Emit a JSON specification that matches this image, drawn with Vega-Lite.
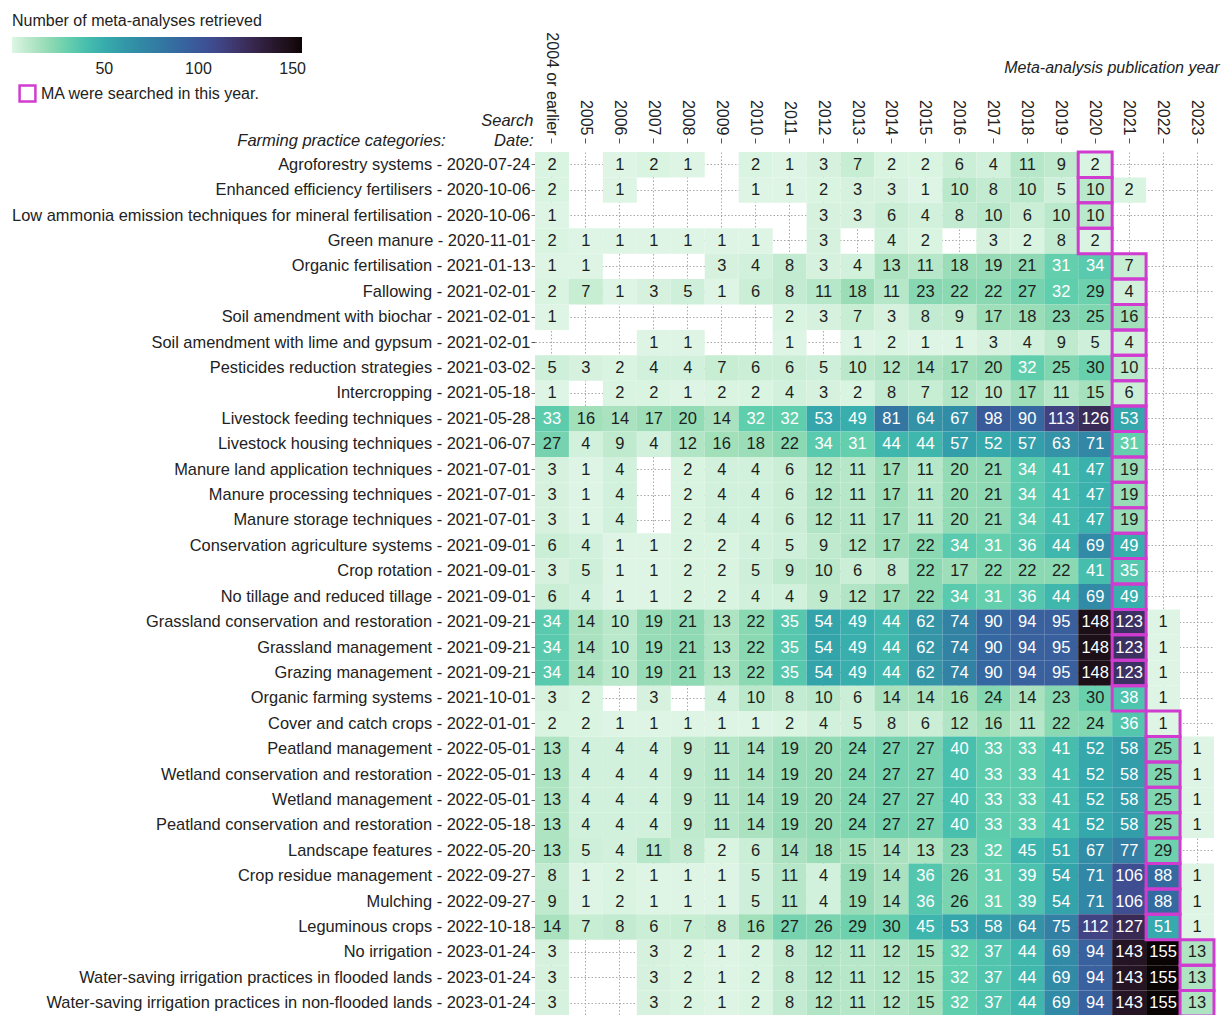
{
"$schema": "https://vega.github.io/schema/vega-lite/v6.json",
"width": 679,
"height": 864,
"autosize": "none",
"padding": {"left": 535, "top": 152, "right": 7, "bottom": 0},
"background": "white",
"config": {"font": "Liberation Sans", "view": {"stroke": null}},
"datasets": {
"practices": [
{"r":1,"label":"Agroforestry systems - 2020-07-24","sy":"2020"},
{"r":2,"label":"Enhanced efficiency fertilisers - 2020-10-06","sy":"2020"},
{"r":3,"label":"Low ammonia emission techniques for mineral fertilisation - 2020-10-06","sy":"2020"},
{"r":4,"label":"Green manure - 2020-11-01","sy":"2020"},
{"r":5,"label":"Organic fertilisation - 2021-01-13","sy":"2021"},
{"r":6,"label":"Fallowing - 2021-02-01","sy":"2021"},
{"r":7,"label":"Soil amendment with biochar - 2021-02-01","sy":"2021"},
{"r":8,"label":"Soil amendment with lime and gypsum - 2021-02-01","sy":"2021"},
{"r":9,"label":"Pesticides reduction strategies - 2021-03-02","sy":"2021"},
{"r":10,"label":"Intercropping - 2021-05-18","sy":"2021"},
{"r":11,"label":"Livestock feeding techniques - 2021-05-28","sy":"2021"},
{"r":12,"label":"Livestock housing techniques - 2021-06-07","sy":"2021"},
{"r":13,"label":"Manure land application techniques - 2021-07-01","sy":"2021"},
{"r":14,"label":"Manure processing techniques - 2021-07-01","sy":"2021"},
{"r":15,"label":"Manure storage techniques - 2021-07-01","sy":"2021"},
{"r":16,"label":"Conservation agriculture systems - 2021-09-01","sy":"2021"},
{"r":17,"label":"Crop rotation - 2021-09-01","sy":"2021"},
{"r":18,"label":"No tillage and reduced tillage - 2021-09-01","sy":"2021"},
{"r":19,"label":"Grassland conservation and restoration - 2021-09-21","sy":"2021"},
{"r":20,"label":"Grassland management - 2021-09-21","sy":"2021"},
{"r":21,"label":"Grazing management - 2021-09-21","sy":"2021"},
{"r":22,"label":"Organic farming systems - 2021-10-01","sy":"2021"},
{"r":23,"label":"Cover and catch crops - 2022-01-01","sy":"2022"},
{"r":24,"label":"Peatland management - 2022-05-01","sy":"2022"},
{"r":25,"label":"Wetland conservation and restoration - 2022-05-01","sy":"2022"},
{"r":26,"label":"Wetland management - 2022-05-01","sy":"2022"},
{"r":27,"label":"Peatland conservation and restoration - 2022-05-18","sy":"2022"},
{"r":28,"label":"Landscape features - 2022-05-20","sy":"2022"},
{"r":29,"label":"Crop residue management - 2022-09-27","sy":"2022"},
{"r":30,"label":"Mulching - 2022-09-27","sy":"2022"},
{"r":31,"label":"Leguminous crops - 2022-10-18","sy":"2022"},
{"r":32,"label":"No irrigation - 2023-01-24","sy":"2023"},
{"r":33,"label":"Water-saving irrigation practices in flooded lands - 2023-01-24","sy":"2023"},
{"r":34,"label":"Water-saving irrigation practices in non-flooded lands - 2023-01-24","sy":"2023"}
],
"cells": [
{"r":1,"c":"2004 or earlier","n":2},{"r":1,"c":"2006","n":1},{"r":1,"c":"2007","n":2},{"r":1,"c":"2008","n":1},{"r":1,"c":"2010","n":2},{"r":1,"c":"2011","n":1},{"r":1,"c":"2012","n":3},{"r":1,"c":"2013","n":7},{"r":1,"c":"2014","n":2},{"r":1,"c":"2015","n":2},{"r":1,"c":"2016","n":6},{"r":1,"c":"2017","n":4},{"r":1,"c":"2018","n":11},{"r":1,"c":"2019","n":9},{"r":1,"c":"2020","n":2},
{"r":2,"c":"2004 or earlier","n":2},{"r":2,"c":"2006","n":1},{"r":2,"c":"2010","n":1},{"r":2,"c":"2011","n":1},{"r":2,"c":"2012","n":2},{"r":2,"c":"2013","n":3},{"r":2,"c":"2014","n":3},{"r":2,"c":"2015","n":1},{"r":2,"c":"2016","n":10},{"r":2,"c":"2017","n":8},{"r":2,"c":"2018","n":10},{"r":2,"c":"2019","n":5},{"r":2,"c":"2020","n":10},{"r":2,"c":"2021","n":2},
{"r":3,"c":"2004 or earlier","n":1},{"r":3,"c":"2012","n":3},{"r":3,"c":"2013","n":3},{"r":3,"c":"2014","n":6},{"r":3,"c":"2015","n":4},{"r":3,"c":"2016","n":8},{"r":3,"c":"2017","n":10},{"r":3,"c":"2018","n":6},{"r":3,"c":"2019","n":10},{"r":3,"c":"2020","n":10},
{"r":4,"c":"2004 or earlier","n":2},{"r":4,"c":"2005","n":1},{"r":4,"c":"2006","n":1},{"r":4,"c":"2007","n":1},{"r":4,"c":"2008","n":1},{"r":4,"c":"2009","n":1},{"r":4,"c":"2010","n":1},{"r":4,"c":"2012","n":3},{"r":4,"c":"2014","n":4},{"r":4,"c":"2015","n":2},{"r":4,"c":"2017","n":3},{"r":4,"c":"2018","n":2},{"r":4,"c":"2019","n":8},{"r":4,"c":"2020","n":2},
{"r":5,"c":"2004 or earlier","n":1},{"r":5,"c":"2005","n":1},{"r":5,"c":"2009","n":3},{"r":5,"c":"2010","n":4},{"r":5,"c":"2011","n":8},{"r":5,"c":"2012","n":3},{"r":5,"c":"2013","n":4},{"r":5,"c":"2014","n":13},{"r":5,"c":"2015","n":11},{"r":5,"c":"2016","n":18},{"r":5,"c":"2017","n":19},{"r":5,"c":"2018","n":21},{"r":5,"c":"2019","n":31},{"r":5,"c":"2020","n":34},{"r":5,"c":"2021","n":7},
{"r":6,"c":"2004 or earlier","n":2},{"r":6,"c":"2005","n":7},{"r":6,"c":"2006","n":1},{"r":6,"c":"2007","n":3},{"r":6,"c":"2008","n":5},{"r":6,"c":"2009","n":1},{"r":6,"c":"2010","n":6},{"r":6,"c":"2011","n":8},{"r":6,"c":"2012","n":11},{"r":6,"c":"2013","n":18},{"r":6,"c":"2014","n":11},{"r":6,"c":"2015","n":23},{"r":6,"c":"2016","n":22},{"r":6,"c":"2017","n":22},{"r":6,"c":"2018","n":27},{"r":6,"c":"2019","n":32},{"r":6,"c":"2020","n":29},{"r":6,"c":"2021","n":4},
{"r":7,"c":"2004 or earlier","n":1},{"r":7,"c":"2011","n":2},{"r":7,"c":"2012","n":3},{"r":7,"c":"2013","n":7},{"r":7,"c":"2014","n":3},{"r":7,"c":"2015","n":8},{"r":7,"c":"2016","n":9},{"r":7,"c":"2017","n":17},{"r":7,"c":"2018","n":18},{"r":7,"c":"2019","n":23},{"r":7,"c":"2020","n":25},{"r":7,"c":"2021","n":16},
{"r":8,"c":"2007","n":1},{"r":8,"c":"2008","n":1},{"r":8,"c":"2011","n":1},{"r":8,"c":"2013","n":1},{"r":8,"c":"2014","n":2},{"r":8,"c":"2015","n":1},{"r":8,"c":"2016","n":1},{"r":8,"c":"2017","n":3},{"r":8,"c":"2018","n":4},{"r":8,"c":"2019","n":9},{"r":8,"c":"2020","n":5},{"r":8,"c":"2021","n":4},
{"r":9,"c":"2004 or earlier","n":5},{"r":9,"c":"2005","n":3},{"r":9,"c":"2006","n":2},{"r":9,"c":"2007","n":4},{"r":9,"c":"2008","n":4},{"r":9,"c":"2009","n":7},{"r":9,"c":"2010","n":6},{"r":9,"c":"2011","n":6},{"r":9,"c":"2012","n":5},{"r":9,"c":"2013","n":10},{"r":9,"c":"2014","n":12},{"r":9,"c":"2015","n":14},{"r":9,"c":"2016","n":17},{"r":9,"c":"2017","n":20},{"r":9,"c":"2018","n":32},{"r":9,"c":"2019","n":25},{"r":9,"c":"2020","n":30},{"r":9,"c":"2021","n":10},
{"r":10,"c":"2004 or earlier","n":1},{"r":10,"c":"2006","n":2},{"r":10,"c":"2007","n":2},{"r":10,"c":"2008","n":1},{"r":10,"c":"2009","n":2},{"r":10,"c":"2010","n":2},{"r":10,"c":"2011","n":4},{"r":10,"c":"2012","n":3},{"r":10,"c":"2013","n":2},{"r":10,"c":"2014","n":8},{"r":10,"c":"2015","n":7},{"r":10,"c":"2016","n":12},{"r":10,"c":"2017","n":10},{"r":10,"c":"2018","n":17},{"r":10,"c":"2019","n":11},{"r":10,"c":"2020","n":15},{"r":10,"c":"2021","n":6},
{"r":11,"c":"2004 or earlier","n":33},{"r":11,"c":"2005","n":16},{"r":11,"c":"2006","n":14},{"r":11,"c":"2007","n":17},{"r":11,"c":"2008","n":20},{"r":11,"c":"2009","n":14},{"r":11,"c":"2010","n":32},{"r":11,"c":"2011","n":32},{"r":11,"c":"2012","n":53},{"r":11,"c":"2013","n":49},{"r":11,"c":"2014","n":81},{"r":11,"c":"2015","n":64},{"r":11,"c":"2016","n":67},{"r":11,"c":"2017","n":98},{"r":11,"c":"2018","n":90},{"r":11,"c":"2019","n":113},{"r":11,"c":"2020","n":126},{"r":11,"c":"2021","n":53},
{"r":12,"c":"2004 or earlier","n":27},{"r":12,"c":"2005","n":4},{"r":12,"c":"2006","n":9},{"r":12,"c":"2007","n":4},{"r":12,"c":"2008","n":12},{"r":12,"c":"2009","n":16},{"r":12,"c":"2010","n":18},{"r":12,"c":"2011","n":22},{"r":12,"c":"2012","n":34},{"r":12,"c":"2013","n":31},{"r":12,"c":"2014","n":44},{"r":12,"c":"2015","n":44},{"r":12,"c":"2016","n":57},{"r":12,"c":"2017","n":52},{"r":12,"c":"2018","n":57},{"r":12,"c":"2019","n":63},{"r":12,"c":"2020","n":71},{"r":12,"c":"2021","n":31},
{"r":13,"c":"2004 or earlier","n":3},{"r":13,"c":"2005","n":1},{"r":13,"c":"2006","n":4},{"r":13,"c":"2008","n":2},{"r":13,"c":"2009","n":4},{"r":13,"c":"2010","n":4},{"r":13,"c":"2011","n":6},{"r":13,"c":"2012","n":12},{"r":13,"c":"2013","n":11},{"r":13,"c":"2014","n":17},{"r":13,"c":"2015","n":11},{"r":13,"c":"2016","n":20},{"r":13,"c":"2017","n":21},{"r":13,"c":"2018","n":34},{"r":13,"c":"2019","n":41},{"r":13,"c":"2020","n":47},{"r":13,"c":"2021","n":19},
{"r":14,"c":"2004 or earlier","n":3},{"r":14,"c":"2005","n":1},{"r":14,"c":"2006","n":4},{"r":14,"c":"2008","n":2},{"r":14,"c":"2009","n":4},{"r":14,"c":"2010","n":4},{"r":14,"c":"2011","n":6},{"r":14,"c":"2012","n":12},{"r":14,"c":"2013","n":11},{"r":14,"c":"2014","n":17},{"r":14,"c":"2015","n":11},{"r":14,"c":"2016","n":20},{"r":14,"c":"2017","n":21},{"r":14,"c":"2018","n":34},{"r":14,"c":"2019","n":41},{"r":14,"c":"2020","n":47},{"r":14,"c":"2021","n":19},
{"r":15,"c":"2004 or earlier","n":3},{"r":15,"c":"2005","n":1},{"r":15,"c":"2006","n":4},{"r":15,"c":"2008","n":2},{"r":15,"c":"2009","n":4},{"r":15,"c":"2010","n":4},{"r":15,"c":"2011","n":6},{"r":15,"c":"2012","n":12},{"r":15,"c":"2013","n":11},{"r":15,"c":"2014","n":17},{"r":15,"c":"2015","n":11},{"r":15,"c":"2016","n":20},{"r":15,"c":"2017","n":21},{"r":15,"c":"2018","n":34},{"r":15,"c":"2019","n":41},{"r":15,"c":"2020","n":47},{"r":15,"c":"2021","n":19},
{"r":16,"c":"2004 or earlier","n":6},{"r":16,"c":"2005","n":4},{"r":16,"c":"2006","n":1},{"r":16,"c":"2007","n":1},{"r":16,"c":"2008","n":2},{"r":16,"c":"2009","n":2},{"r":16,"c":"2010","n":4},{"r":16,"c":"2011","n":5},{"r":16,"c":"2012","n":9},{"r":16,"c":"2013","n":12},{"r":16,"c":"2014","n":17},{"r":16,"c":"2015","n":22},{"r":16,"c":"2016","n":34},{"r":16,"c":"2017","n":31},{"r":16,"c":"2018","n":36},{"r":16,"c":"2019","n":44},{"r":16,"c":"2020","n":69},{"r":16,"c":"2021","n":49},
{"r":17,"c":"2004 or earlier","n":3},{"r":17,"c":"2005","n":5},{"r":17,"c":"2006","n":1},{"r":17,"c":"2007","n":1},{"r":17,"c":"2008","n":2},{"r":17,"c":"2009","n":2},{"r":17,"c":"2010","n":5},{"r":17,"c":"2011","n":9},{"r":17,"c":"2012","n":10},{"r":17,"c":"2013","n":6},{"r":17,"c":"2014","n":8},{"r":17,"c":"2015","n":22},{"r":17,"c":"2016","n":17},{"r":17,"c":"2017","n":22},{"r":17,"c":"2018","n":22},{"r":17,"c":"2019","n":22},{"r":17,"c":"2020","n":41},{"r":17,"c":"2021","n":35},
{"r":18,"c":"2004 or earlier","n":6},{"r":18,"c":"2005","n":4},{"r":18,"c":"2006","n":1},{"r":18,"c":"2007","n":1},{"r":18,"c":"2008","n":2},{"r":18,"c":"2009","n":2},{"r":18,"c":"2010","n":4},{"r":18,"c":"2011","n":4},{"r":18,"c":"2012","n":9},{"r":18,"c":"2013","n":12},{"r":18,"c":"2014","n":17},{"r":18,"c":"2015","n":22},{"r":18,"c":"2016","n":34},{"r":18,"c":"2017","n":31},{"r":18,"c":"2018","n":36},{"r":18,"c":"2019","n":44},{"r":18,"c":"2020","n":69},{"r":18,"c":"2021","n":49},
{"r":19,"c":"2004 or earlier","n":34},{"r":19,"c":"2005","n":14},{"r":19,"c":"2006","n":10},{"r":19,"c":"2007","n":19},{"r":19,"c":"2008","n":21},{"r":19,"c":"2009","n":13},{"r":19,"c":"2010","n":22},{"r":19,"c":"2011","n":35},{"r":19,"c":"2012","n":54},{"r":19,"c":"2013","n":49},{"r":19,"c":"2014","n":44},{"r":19,"c":"2015","n":62},{"r":19,"c":"2016","n":74},{"r":19,"c":"2017","n":90},{"r":19,"c":"2018","n":94},{"r":19,"c":"2019","n":95},{"r":19,"c":"2020","n":148},{"r":19,"c":"2021","n":123},{"r":19,"c":"2022","n":1},
{"r":20,"c":"2004 or earlier","n":34},{"r":20,"c":"2005","n":14},{"r":20,"c":"2006","n":10},{"r":20,"c":"2007","n":19},{"r":20,"c":"2008","n":21},{"r":20,"c":"2009","n":13},{"r":20,"c":"2010","n":22},{"r":20,"c":"2011","n":35},{"r":20,"c":"2012","n":54},{"r":20,"c":"2013","n":49},{"r":20,"c":"2014","n":44},{"r":20,"c":"2015","n":62},{"r":20,"c":"2016","n":74},{"r":20,"c":"2017","n":90},{"r":20,"c":"2018","n":94},{"r":20,"c":"2019","n":95},{"r":20,"c":"2020","n":148},{"r":20,"c":"2021","n":123},{"r":20,"c":"2022","n":1},
{"r":21,"c":"2004 or earlier","n":34},{"r":21,"c":"2005","n":14},{"r":21,"c":"2006","n":10},{"r":21,"c":"2007","n":19},{"r":21,"c":"2008","n":21},{"r":21,"c":"2009","n":13},{"r":21,"c":"2010","n":22},{"r":21,"c":"2011","n":35},{"r":21,"c":"2012","n":54},{"r":21,"c":"2013","n":49},{"r":21,"c":"2014","n":44},{"r":21,"c":"2015","n":62},{"r":21,"c":"2016","n":74},{"r":21,"c":"2017","n":90},{"r":21,"c":"2018","n":94},{"r":21,"c":"2019","n":95},{"r":21,"c":"2020","n":148},{"r":21,"c":"2021","n":123},{"r":21,"c":"2022","n":1},
{"r":22,"c":"2004 or earlier","n":3},{"r":22,"c":"2005","n":2},{"r":22,"c":"2007","n":3},{"r":22,"c":"2009","n":4},{"r":22,"c":"2010","n":10},{"r":22,"c":"2011","n":8},{"r":22,"c":"2012","n":10},{"r":22,"c":"2013","n":6},{"r":22,"c":"2014","n":14},{"r":22,"c":"2015","n":14},{"r":22,"c":"2016","n":16},{"r":22,"c":"2017","n":24},{"r":22,"c":"2018","n":14},{"r":22,"c":"2019","n":23},{"r":22,"c":"2020","n":30},{"r":22,"c":"2021","n":38},{"r":22,"c":"2022","n":1},
{"r":23,"c":"2004 or earlier","n":2},{"r":23,"c":"2005","n":2},{"r":23,"c":"2006","n":1},{"r":23,"c":"2007","n":1},{"r":23,"c":"2008","n":1},{"r":23,"c":"2009","n":1},{"r":23,"c":"2010","n":1},{"r":23,"c":"2011","n":2},{"r":23,"c":"2012","n":4},{"r":23,"c":"2013","n":5},{"r":23,"c":"2014","n":8},{"r":23,"c":"2015","n":6},{"r":23,"c":"2016","n":12},{"r":23,"c":"2017","n":16},{"r":23,"c":"2018","n":11},{"r":23,"c":"2019","n":22},{"r":23,"c":"2020","n":24},{"r":23,"c":"2021","n":36},{"r":23,"c":"2022","n":1},
{"r":24,"c":"2004 or earlier","n":13},{"r":24,"c":"2005","n":4},{"r":24,"c":"2006","n":4},{"r":24,"c":"2007","n":4},{"r":24,"c":"2008","n":9},{"r":24,"c":"2009","n":11},{"r":24,"c":"2010","n":14},{"r":24,"c":"2011","n":19},{"r":24,"c":"2012","n":20},{"r":24,"c":"2013","n":24},{"r":24,"c":"2014","n":27},{"r":24,"c":"2015","n":27},{"r":24,"c":"2016","n":40},{"r":24,"c":"2017","n":33},{"r":24,"c":"2018","n":33},{"r":24,"c":"2019","n":41},{"r":24,"c":"2020","n":52},{"r":24,"c":"2021","n":58},{"r":24,"c":"2022","n":25},{"r":24,"c":"2023","n":1},
{"r":25,"c":"2004 or earlier","n":13},{"r":25,"c":"2005","n":4},{"r":25,"c":"2006","n":4},{"r":25,"c":"2007","n":4},{"r":25,"c":"2008","n":9},{"r":25,"c":"2009","n":11},{"r":25,"c":"2010","n":14},{"r":25,"c":"2011","n":19},{"r":25,"c":"2012","n":20},{"r":25,"c":"2013","n":24},{"r":25,"c":"2014","n":27},{"r":25,"c":"2015","n":27},{"r":25,"c":"2016","n":40},{"r":25,"c":"2017","n":33},{"r":25,"c":"2018","n":33},{"r":25,"c":"2019","n":41},{"r":25,"c":"2020","n":52},{"r":25,"c":"2021","n":58},{"r":25,"c":"2022","n":25},{"r":25,"c":"2023","n":1},
{"r":26,"c":"2004 or earlier","n":13},{"r":26,"c":"2005","n":4},{"r":26,"c":"2006","n":4},{"r":26,"c":"2007","n":4},{"r":26,"c":"2008","n":9},{"r":26,"c":"2009","n":11},{"r":26,"c":"2010","n":14},{"r":26,"c":"2011","n":19},{"r":26,"c":"2012","n":20},{"r":26,"c":"2013","n":24},{"r":26,"c":"2014","n":27},{"r":26,"c":"2015","n":27},{"r":26,"c":"2016","n":40},{"r":26,"c":"2017","n":33},{"r":26,"c":"2018","n":33},{"r":26,"c":"2019","n":41},{"r":26,"c":"2020","n":52},{"r":26,"c":"2021","n":58},{"r":26,"c":"2022","n":25},{"r":26,"c":"2023","n":1},
{"r":27,"c":"2004 or earlier","n":13},{"r":27,"c":"2005","n":4},{"r":27,"c":"2006","n":4},{"r":27,"c":"2007","n":4},{"r":27,"c":"2008","n":9},{"r":27,"c":"2009","n":11},{"r":27,"c":"2010","n":14},{"r":27,"c":"2011","n":19},{"r":27,"c":"2012","n":20},{"r":27,"c":"2013","n":24},{"r":27,"c":"2014","n":27},{"r":27,"c":"2015","n":27},{"r":27,"c":"2016","n":40},{"r":27,"c":"2017","n":33},{"r":27,"c":"2018","n":33},{"r":27,"c":"2019","n":41},{"r":27,"c":"2020","n":52},{"r":27,"c":"2021","n":58},{"r":27,"c":"2022","n":25},{"r":27,"c":"2023","n":1},
{"r":28,"c":"2004 or earlier","n":13},{"r":28,"c":"2005","n":5},{"r":28,"c":"2006","n":4},{"r":28,"c":"2007","n":11},{"r":28,"c":"2008","n":8},{"r":28,"c":"2009","n":2},{"r":28,"c":"2010","n":6},{"r":28,"c":"2011","n":14},{"r":28,"c":"2012","n":18},{"r":28,"c":"2013","n":15},{"r":28,"c":"2014","n":14},{"r":28,"c":"2015","n":13},{"r":28,"c":"2016","n":23},{"r":28,"c":"2017","n":32},{"r":28,"c":"2018","n":45},{"r":28,"c":"2019","n":51},{"r":28,"c":"2020","n":67},{"r":28,"c":"2021","n":77},{"r":28,"c":"2022","n":29},
{"r":29,"c":"2004 or earlier","n":8},{"r":29,"c":"2005","n":1},{"r":29,"c":"2006","n":2},{"r":29,"c":"2007","n":1},{"r":29,"c":"2008","n":1},{"r":29,"c":"2009","n":1},{"r":29,"c":"2010","n":5},{"r":29,"c":"2011","n":11},{"r":29,"c":"2012","n":4},{"r":29,"c":"2013","n":19},{"r":29,"c":"2014","n":14},{"r":29,"c":"2015","n":36},{"r":29,"c":"2016","n":26},{"r":29,"c":"2017","n":31},{"r":29,"c":"2018","n":39},{"r":29,"c":"2019","n":54},{"r":29,"c":"2020","n":71},{"r":29,"c":"2021","n":106},{"r":29,"c":"2022","n":88},{"r":29,"c":"2023","n":1},
{"r":30,"c":"2004 or earlier","n":9},{"r":30,"c":"2005","n":1},{"r":30,"c":"2006","n":2},{"r":30,"c":"2007","n":1},{"r":30,"c":"2008","n":1},{"r":30,"c":"2009","n":1},{"r":30,"c":"2010","n":5},{"r":30,"c":"2011","n":11},{"r":30,"c":"2012","n":4},{"r":30,"c":"2013","n":19},{"r":30,"c":"2014","n":14},{"r":30,"c":"2015","n":36},{"r":30,"c":"2016","n":26},{"r":30,"c":"2017","n":31},{"r":30,"c":"2018","n":39},{"r":30,"c":"2019","n":54},{"r":30,"c":"2020","n":71},{"r":30,"c":"2021","n":106},{"r":30,"c":"2022","n":88},{"r":30,"c":"2023","n":1},
{"r":31,"c":"2004 or earlier","n":14},{"r":31,"c":"2005","n":7},{"r":31,"c":"2006","n":8},{"r":31,"c":"2007","n":6},{"r":31,"c":"2008","n":7},{"r":31,"c":"2009","n":8},{"r":31,"c":"2010","n":16},{"r":31,"c":"2011","n":27},{"r":31,"c":"2012","n":26},{"r":31,"c":"2013","n":29},{"r":31,"c":"2014","n":30},{"r":31,"c":"2015","n":45},{"r":31,"c":"2016","n":53},{"r":31,"c":"2017","n":58},{"r":31,"c":"2018","n":64},{"r":31,"c":"2019","n":75},{"r":31,"c":"2020","n":112},{"r":31,"c":"2021","n":127},{"r":31,"c":"2022","n":51},{"r":31,"c":"2023","n":1},
{"r":32,"c":"2004 or earlier","n":3},{"r":32,"c":"2007","n":3},{"r":32,"c":"2008","n":2},{"r":32,"c":"2009","n":1},{"r":32,"c":"2010","n":2},{"r":32,"c":"2011","n":8},{"r":32,"c":"2012","n":12},{"r":32,"c":"2013","n":11},{"r":32,"c":"2014","n":12},{"r":32,"c":"2015","n":15},{"r":32,"c":"2016","n":32},{"r":32,"c":"2017","n":37},{"r":32,"c":"2018","n":44},{"r":32,"c":"2019","n":69},{"r":32,"c":"2020","n":94},{"r":32,"c":"2021","n":143},{"r":32,"c":"2022","n":155},{"r":32,"c":"2023","n":13},
{"r":33,"c":"2004 or earlier","n":3},{"r":33,"c":"2007","n":3},{"r":33,"c":"2008","n":2},{"r":33,"c":"2009","n":1},{"r":33,"c":"2010","n":2},{"r":33,"c":"2011","n":8},{"r":33,"c":"2012","n":12},{"r":33,"c":"2013","n":11},{"r":33,"c":"2014","n":12},{"r":33,"c":"2015","n":15},{"r":33,"c":"2016","n":32},{"r":33,"c":"2017","n":37},{"r":33,"c":"2018","n":44},{"r":33,"c":"2019","n":69},{"r":33,"c":"2020","n":94},{"r":33,"c":"2021","n":143},{"r":33,"c":"2022","n":155},{"r":33,"c":"2023","n":13},
{"r":34,"c":"2004 or earlier","n":3},{"r":34,"c":"2007","n":3},{"r":34,"c":"2008","n":2},{"r":34,"c":"2009","n":1},{"r":34,"c":"2010","n":2},{"r":34,"c":"2011","n":8},{"r":34,"c":"2012","n":12},{"r":34,"c":"2013","n":11},{"r":34,"c":"2014","n":12},{"r":34,"c":"2015","n":15},{"r":34,"c":"2016","n":32},{"r":34,"c":"2017","n":37},{"r":34,"c":"2018","n":44},{"r":34,"c":"2019","n":69},{"r":34,"c":"2020","n":94},{"r":34,"c":"2021","n":143},{"r":34,"c":"2022","n":155},{"r":34,"c":"2023","n":13}
]
},
"resolve": {"axis": {"y": "independent"}},
"layer": [
{
"data": {"name": "cells"},
"transform": [{"lookup": "r", "from": {"data": {"name": "practices"}, "key": "r", "fields": ["label"]}}],
"mark": {"type": "rect", "opacity": 1},
"encoding": {
"x": {"field": "c", "type": "ordinal",
"scale": {"domain": ["2004 or earlier","2005","2006","2007","2008","2009","2010","2011","2012","2013","2014","2015","2016","2017","2018","2019","2020","2021","2022","2023"], "paddingInner": 0, "paddingOuter": 0},
"axis": {"orient": "top", "zindex": 0, "offset": 9, "title": "Meta-analysis publication year", "titleFontStyle": "italic", "titleFontWeight": "normal", "titleFontSize": 16, "titleColor": "#222", "titleAlign": "right", "titleAnchor": "end", "titleX": 684, "titleY": -71, "titleBaseline": "alphabetic",
"labelAngle": 90, "labelFontSize": 16, "labelColor": "#222", "labelPadding": 3, "labelLimit": 200, "tickSize": 5, "tickColor": "#555", "domain": false,
"grid": true, "gridDash": [1.5, 2], "gridColor": "#a8a8a8", "bandPosition": 0.5}},
"y": {"field": "label", "type": "ordinal",
"scale": {"domain": ["Agroforestry systems - 2020-07-24","Enhanced efficiency fertilisers - 2020-10-06","Low ammonia emission techniques for mineral fertilisation - 2020-10-06","Green manure - 2020-11-01","Organic fertilisation - 2021-01-13","Fallowing - 2021-02-01","Soil amendment with biochar - 2021-02-01","Soil amendment with lime and gypsum - 2021-02-01","Pesticides reduction strategies - 2021-03-02","Intercropping - 2021-05-18","Livestock feeding techniques - 2021-05-28","Livestock housing techniques - 2021-06-07","Manure land application techniques - 2021-07-01","Manure processing techniques - 2021-07-01","Manure storage techniques - 2021-07-01","Conservation agriculture systems - 2021-09-01","Crop rotation - 2021-09-01","No tillage and reduced tillage - 2021-09-01","Grassland conservation and restoration - 2021-09-21","Grassland management - 2021-09-21","Grazing management - 2021-09-21","Organic farming systems - 2021-10-01","Cover and catch crops - 2022-01-01","Peatland management - 2022-05-01","Wetland conservation and restoration - 2022-05-01","Wetland management - 2022-05-01","Peatland conservation and restoration - 2022-05-18","Landscape features - 2022-05-20","Crop residue management - 2022-09-27","Mulching - 2022-09-27","Leguminous crops - 2022-10-18","No irrigation - 2023-01-24","Water-saving irrigation practices in flooded lands - 2023-01-24","Water-saving irrigation practices in non-flooded lands - 2023-01-24"], "paddingInner": 0, "paddingOuter": 0},
"axis": {"zindex": 0, "title": ["Search", "Date:"], "titleAngle": 0, "titleAlign": "right", "titleX": -2, "titleY": -27, "titleBaseline": "alphabetic", "titleFontStyle": "italic", "titleFontWeight": "normal", "titleFontSize": 16.5, "titleColor": "#222", "titleLineHeight": 20,
"labelFontSize": 16.4, "labelColor": "#222", "labelLimit": 700, "labelPadding": 1, "tickSize": 4, "tickColor": "#555", "domain": false,
"grid": true, "gridDash": [1.5, 2], "gridColor": "#a8a8a8", "bandPosition": 0.5}},
"color": {"field": "n", "type": "quantitative",
"scale": {"domain": [1, 155], "range": ["#DEF5E5","#A0DFB9","#60CEAC","#3AB1AD","#3494A6","#357BA2","#38629E","#40498E","#3B2F5E","#28192F","#0B0405"]},
"legend": {"orient": "none", "legendX": -523, "legendY": -139, "direction": "horizontal", "gradientLength": 290, "gradientThickness": 16, "title": "Number of meta-analyses retrieved", "titleLimit": 500, "titleFontSize": 16, "titleFontWeight": "normal", "titleColor": "#222", "titlePadding": 8, "labelFontSize": 16, "labelColor": "#222", "values": [50, 100, 150], "gradientStrokeWidth": 0, "labelOffset": 8}}
}
},
{
"data": {"name": "cells"},
"transform": [{"lookup": "r", "from": {"data": {"name": "practices"}, "key": "r", "fields": ["label"]}}],
"mark": {"type": "text", "fontSize": 16.5},
"encoding": {
"x": {"field": "c", "type": "ordinal"},
"y": {"field": "label", "type": "ordinal", "axis": null},
"text": {"field": "n", "type": "quantitative"},
"color": {"condition": {"test": "datum.n > 30", "value": "#ffffff"}, "value": "#1e1e1e"}
}
},
{
"data": {"name": "practices"},
"mark": {"type": "rect", "filled": false, "strokeWidth": 3},
"encoding": {
"x": {"field": "sy", "type": "ordinal"},
"y": {"field": "label", "type": "ordinal",
"axis": {"orient": "right", "labels": false, "ticks": false, "domain": false, "grid": false, "title": "Farming practice categories:", "titleAngle": 0, "titleAlign": "right", "titleX": -769, "titleY": -7, "titleBaseline": "alphabetic", "titleFontStyle": "italic", "titleFontWeight": "normal", "titleFontSize": 16.5, "titleColor": "#222"}},
"stroke": {"datum": "MA were searched in this year.", "type": "nominal", "scale": {"range": ["#cf3ccf"]},
"legend": {"orient": "none", "legendX": -517, "legendY": -68, "title": null, "symbolType": "square", "symbolSize": 250, "symbolStrokeWidth": 2.5, "symbolFillColor": "transparent", "labelFontSize": 16, "labelColor": "#222", "labelLimit": 500}}
}
}
]
}
